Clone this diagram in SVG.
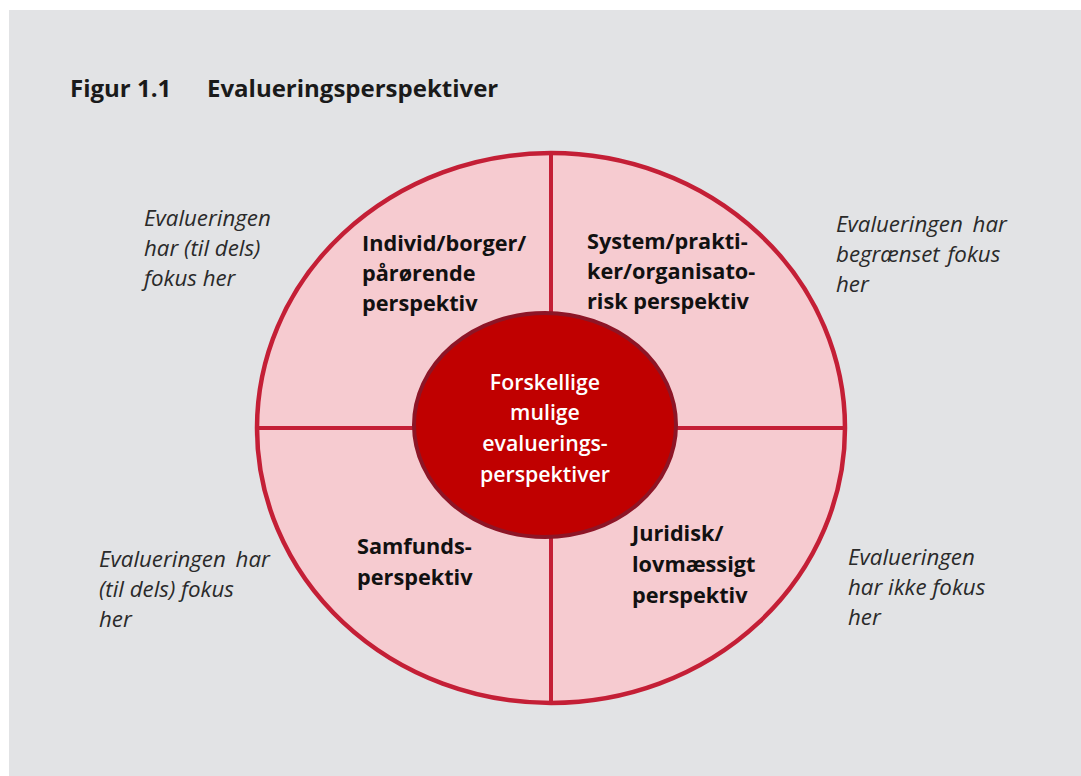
<svg xmlns="http://www.w3.org/2000/svg" width="1081" height="776" viewBox="0 0 1081 776">
<style>
.title{font-family:"Open Sans","Noto Sans",sans-serif;font-weight:bold;font-size:24px;fill:#1a1a1a}
.q{font-family:"Open Sans","Noto Sans",sans-serif;font-weight:bold;font-size:21.7px;fill:#111}
.c{font-family:"Open Sans","Noto Sans",sans-serif;font-weight:600;font-size:21.3px;fill:#fff;text-anchor:middle}
.side{font-family:"Open Sans","Noto Sans",sans-serif;font-style:italic;font-size:22.3px;fill:#2a2a2a}
.div{stroke:#c41f36;stroke-width:4;fill:none}
</style>
<rect x="0" y="0" width="1081" height="776" fill="#ffffff"/>
<rect x="9" y="10" width="1072" height="766" fill="#e2e3e5"/>
<text class="title" x="70" y="97">Figur 1.1</text>
<text class="title" x="207" y="97">Evalueringsperspektiver</text>
<g id="outer">
<ellipse cx="551" cy="428" rx="294" ry="275" fill="#f6cbd0" stroke="#c41f36" stroke-width="4.5"/>
</g>
<g id="connectors">
<line class="div" x1="551" y1="153" x2="551" y2="703"/>
<line class="div" x1="257" y1="428" x2="845" y2="428"/>
</g>
<g id="q1">
<text class="q"><tspan x="362" y="251">Individ/borger/</tspan><tspan x="362" y="281">pårørende</tspan><tspan x="362" y="311">perspektiv</tspan></text>
</g>
<g id="q2">
<text class="q"><tspan x="587" y="249">System/prakti-</tspan><tspan x="587" y="279">ker/organisato-</tspan><tspan x="587" y="309">risk perspektiv</tspan></text>
</g>
<g id="q3">
<text class="q"><tspan x="357" y="554">Samfunds-</tspan><tspan x="357" y="585">perspektiv</tspan></text>
</g>
<g id="q4">
<text class="q"><tspan x="632" y="541">Juridisk/</tspan><tspan x="632" y="572">lovmæssigt</tspan><tspan x="632" y="603">perspektiv</tspan></text>
</g>
<g id="center">
<ellipse cx="545" cy="425" rx="131" ry="112" fill="#c00000" stroke="#8d1526" stroke-width="4"/>
<text class="c"><tspan x="545" y="390">Forskellige</tspan><tspan x="545" y="420">mulige</tspan><tspan x="545" y="451">evaluerings-</tspan><tspan x="545" y="482">perspektiver</tspan></text>
</g>
<g id="s1">
<text class="side"><tspan x="144" y="226">Evalueringen</tspan><tspan x="144" y="256">har (til dels)</tspan><tspan x="144" y="286">fokus her</tspan></text>
</g>
<g id="s2">
<text class="side" word-spacing="4"><tspan x="836" y="232">Evalueringen har</tspan><tspan x="836" y="262" word-spacing="2">begrænset fokus</tspan><tspan x="836" y="292">her</tspan></text>
</g>
<g id="s3">
<text class="side"><tspan x="99" y="567" word-spacing="4">Evalueringen har</tspan><tspan x="99" y="597">(til dels) fokus</tspan><tspan x="99" y="627">her</tspan></text>
</g>
<g id="s4">
<text class="side"><tspan x="848" y="565">Evalueringen</tspan><tspan x="848" y="595">har ikke fokus</tspan><tspan x="848" y="625">her</tspan></text>
</g>
</svg>
